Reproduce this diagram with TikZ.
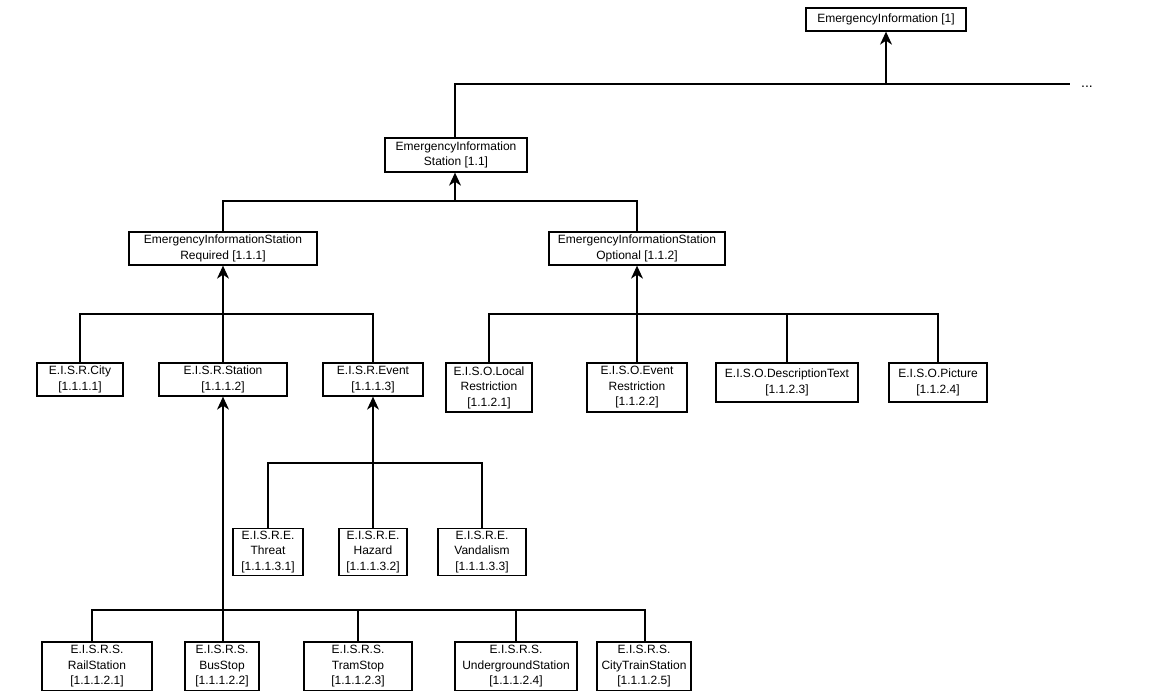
\documentclass[tikz,border=0pt]{standalone}
\usepackage{fontspec}
\setmainfont{Liberation Sans}
\usetikzlibrary{arrows.meta}
\begin{document}
\begin{tikzpicture}[x=1pt,y=-1pt,
  box/.style={draw, line width=1.3pt, fill=white, align=center, inner sep=0pt,
              font=\fontsize{12}{15.5}\selectfont},
  link/.style={line width=1.3pt},
  up/.style={line width=1.3pt, -{Stealth[length=13pt,width=12pt,inset=4pt]}}]
\useasboundingbox (0,0) rectangle (1163,691);

% level 0
\node[box, minimum width=160pt, minimum height=23pt] (n1) at (886,19.5) {EmergencyInformation [1]};
% level 1
\node[box, minimum width=142pt, minimum height=34pt] (n11) at (456,155) {EmergencyInformation\\Station [1.1]};
% level 2
\node[box, minimum width=188pt, minimum height=33pt] (n111) at (223,248.5) {EmergencyInformationStation\\Required [1.1.1]};
\node[box, minimum width=176pt, minimum height=33pt] (n112) at (637,248.5) {EmergencyInformationStation\\Optional [1.1.2]};
% level 3 left
\node[box, minimum width=86pt, minimum height=33pt] (city) at (80,379.5) {E.I.S.R.City\\{}[1.1.1.1]};
\node[box, minimum width=128pt, minimum height=33pt] (station) at (223,379.5) {E.I.S.R.Station\\{}[1.1.1.2]};
\node[box, minimum width=100pt, minimum height=33pt] (event) at (373,379.5) {E.I.S.R.Event\\{}[1.1.1.3]};
% level 3 right
\node[box, minimum width=86pt, minimum height=49pt] (local) at (489,387.5) {E.I.S.O.Local\\Restriction\\{}[1.1.2.1]};
\node[box, minimum width=100pt, minimum height=49pt] (eventr) at (637,387.5) {E.I.S.O.Event\\Restriction\\{}[1.1.2.2]};
\node[box, minimum width=142pt, minimum height=39pt] (desc) at (787,382.5) {E.I.S.O.DescriptionText\\{}[1.1.2.3]};
\node[box, minimum width=98pt, minimum height=39pt] (picture) at (938,382.5) {E.I.S.O.Picture\\{}[1.1.2.4]};
% event children
\node[box, minimum width=70pt, minimum height=47pt] (threat) at (268,552) {E.I.S.R.E.\\Threat\\{}[1.1.1.3.1]};
\node[box, minimum width=68pt, minimum height=47pt] (hazard) at (373,552) {E.I.S.R.E.\\Hazard\\{}[1.1.1.3.2]};
\node[box, minimum width=88pt, minimum height=47pt] (vandal) at (482,552) {E.I.S.R.E.\\Vandalism\\{}[1.1.1.3.3]};
% station children
\node[box, minimum width=110pt, minimum height=49pt] (rail) at (97,666.5) {E.I.S.R.S.\\RailStation\\{}[1.1.1.2.1]};
\node[box, minimum width=74pt, minimum height=49pt] (bus) at (222,666.5) {E.I.S.R.S.\\BusStop\\{}[1.1.1.2.2]};
\node[box, minimum width=108pt, minimum height=49pt] (tram) at (358,666.5) {E.I.S.R.S.\\TramStop\\{}[1.1.1.2.3]};
\node[box, minimum width=122pt, minimum height=49pt] (under) at (516,666.5) {E.I.S.R.S.\\UndergroundStation\\{}[1.1.1.2.4]};
\node[box, minimum width=94pt, minimum height=49pt] (ctrain) at (644,666.5) {E.I.S.R.S.\\CityTrainStation\\{}[1.1.1.2.5]};

% junction coordinates
\coordinate (h0) at (455,84);
\coordinate (h0r) at (1070,84);
\coordinate (h1) at (455,201);
\coordinate (h2) at (223,314);
\coordinate (h3) at (637,314);
\coordinate (h4) at (373,463);
\coordinate (h5) at (223,610);
\coordinate (railtop) at (92,642);
\coordinate (ctraintop) at (645,642);

\node[font=\fontsize{14}{14}\selectfont, anchor=base west, inner sep=0pt] (dots) at (1081,87) {...};

% connectors
\draw[link] (h0 |- n11.north) -- (h0) -- (h0r);
\draw[up] (n1.south |- h0) -- (n1.south);

\draw[link] (n111.north) |- (h1) -| (n112.north);
\draw[up] (h1) -- (h1 |- n11.south);

\draw[link] (city.north) |- (h2) -| (event.north);
\draw[link] (station.north) -- (h2);
\draw[up] (h2) -- (n111.south);

\draw[link] (local.north) |- (h3) -| (picture.north);
\draw[link] (eventr.north) -- (h3);
\draw[link] (desc.north) -- (desc.north |- h3);
\draw[up] (h3) -- (n112.south);

\draw[link] (threat.north) |- (h4) -| (vandal.north);
\draw[link] (hazard.north) -- (h4);
\draw[up] (h4) -- (event.south);

\draw[link] (railtop) |- (h5) -| (ctraintop);
\draw[link] (h5 |- bus.north) -- (h5);
\draw[link] (tram.north) -- (tram.north |- h5);
\draw[link] (under.north) -- (under.north |- h5);
\draw[up] (h5) -- (station.south);
\end{tikzpicture}
\end{document}
